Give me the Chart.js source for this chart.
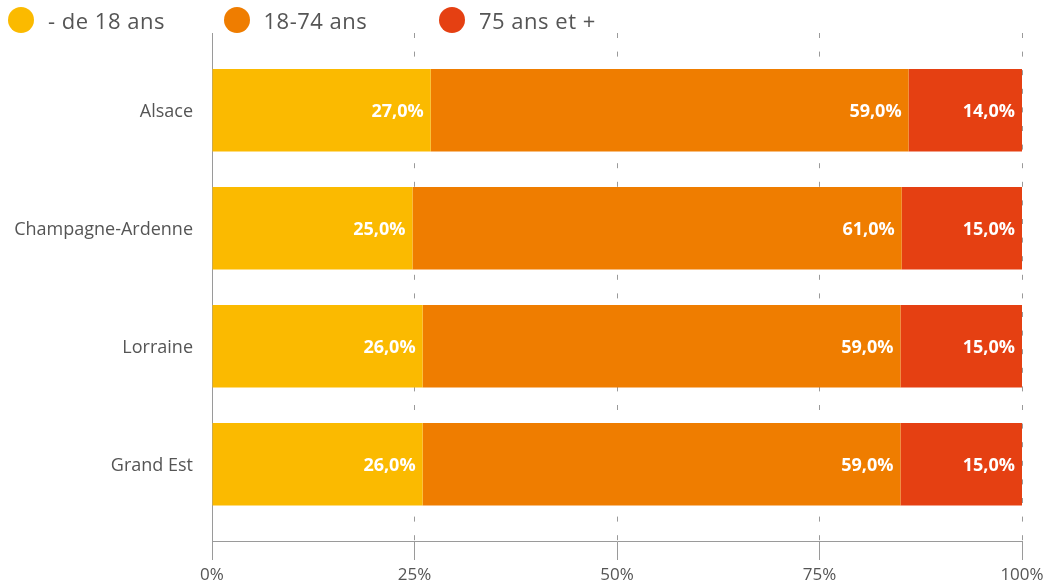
<!DOCTYPE html>
<html lang="fr">
<head>
<meta charset="utf-8">
<script src="https://cdn.jsdelivr.net/npm/chart.js@4"></script>
<style>
    html, body { margin: 0; padding: 0; background: #fff; }
    #wrap { position: relative; width: 1051px; height: 586px; }
    #legende { position: absolute; top: 7px; left: 8px; display: flex; font-family: 'Open Sans', sans-serif; font-size: 22px; letter-spacing: 0.5px; color: #555; z-index: 2; }
    #legende .item { width: 215.5px; display: flex; align-items: center; height: 26px; }
    #legende .pastille { width: 26px; height: 26px; border-radius: 50%; margin-right: 14px; flex: none; }
</style>
</head>
<body>
<div id="wrap">
    <div id="legende"></div>
    <canvas id="ageChart" width="1051" height="586"></canvas>
</div>
<script>
// Données
const regions = ['Alsace', 'Champagne-Ardenne', 'Lorraine', 'Grand Est'];
const seriesNames = ['- de 18 ans', '18-74 ans', '75 ans et +'];
const moins18 = [27, 25, 26, 26];
const de18a74 = [59, 61, 59, 59];
const plus75 = [14, 15, 15, 15];
const xTicks = [0, 25, 50, 75, 100];
const couleurs = ['#FBBA00', '#EF7D00', '#E54012'];

const police = "'Open Sans', sans-serif";
const series = [moins18, de18a74, plus75];
const totaux = regions.map((_, i) => series.reduce((s, arr) => s + arr[i], 0));

// Légende HTML
const legende = document.getElementById('legende');
seriesNames.forEach(function(nom, k) {
    const item = document.createElement('div');
    item.className = 'item';
    item.innerHTML = '<span class="pastille" style="background:' + couleurs[k] + '"></span><span>' + nom + '</span>';
    legende.appendChild(item);
});

// Étiquettes blanches au bout de chaque segment
const etiquettes = {
    id: 'etiquettes',
    afterDatasetsDraw(chart) {
        const ctx = chart.ctx;
        ctx.save();
        ctx.fillStyle = '#fff';
        ctx.font = 'bold 18px ' + police;
        ctx.textAlign = 'right';
        ctx.textBaseline = 'middle';
        chart.data.datasets.forEach(function(ds, k) {
            chart.getDatasetMeta(k).data.forEach(function(bar, i) {
                const txt = series[k][i].toFixed(1).replace('.', ',') + '%';
                ctx.fillText(txt, bar.x - 7, bar.y + 2);
            });
        });
        ctx.restore();
    }
};

const gris = '#9a9a9a';

new Chart(document.getElementById('ageChart'), {
    type: 'bar',
    data: {
        datasets: series.map(function(arr, k) {
            return {
                label: seriesNames[k],
                data: arr.map((v, i) => ({ x: v / totaux[i] * 100, y: i })),
                backgroundColor: couleurs[k],
                borderWidth: 0,
                categoryPercentage: 1,
                barPercentage: 0.7
            };
        })
    },
    options: {
        indexAxis: 'y',
        responsive: false,
        animation: false,
        layout: { padding: { top: 33, right: 29, left: 0, bottom: 0 } },
        scales: {
            x: {
                type: 'linear',
                stacked: true,
                min: 0,
                max: 100,
                afterBuildTicks: s => { s.ticks = xTicks.map(v => ({ value: v })); },
                afterFit: s => { s.height = 45; },
                grid: { color: gris, tickLength: 19, tickBorderDash: [] },
                border: { color: gris, width: 1, dash: [5, 13.6] },
                ticks: {
                    color: '#555',
                    font: { family: police, size: 17 },
                    padding: 5,
                    callback: v => v + '%'
                }
            },
            y: {
                type: 'linear',
                stacked: true,
                reverse: true,
                offset: false,
                min: -0.655,
                max: 3.65,
                afterBuildTicks: s => { s.ticks = regions.map((_, i) => ({ value: i })); },
                afterFit: s => { s.width = 212; },
                grid: { display: false, drawTicks: false, offset: false },
                border: { color: gris, width: 1 },
                ticks: {
                    color: '#555',
                    font: { family: police, size: 18 },
                    padding: 19,
                    labelOffset: 2,
                    callback: v => regions[v] || ''
                }
            }
        },
        plugins: {
            legend: { display: false },
            tooltip: { enabled: false }
        }
    },
    plugins: [etiquettes]
});
</script>
</body>
</html>
